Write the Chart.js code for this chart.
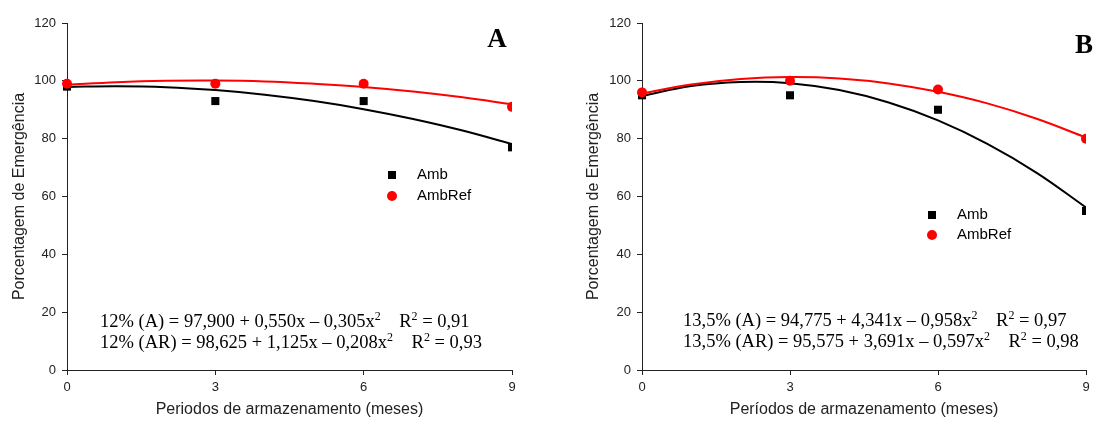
<!DOCTYPE html>
<html>
<head>
<meta charset="utf-8">
<script src="https://cdn.jsdelivr.net/npm/chart.js@4.4.1/dist/chart.umd.min.js"></script>
<style>
  html, body { margin: 0; padding: 0; background: #fff; }
  #wrap { position: relative; width: 1096px; height: 421px; overflow: hidden; }
  .panel { position: absolute; top: 0; width: 548px; height: 421px; }
</style>
</head>
<body>
<div id="wrap">
  <div class="panel" style="left:0"><canvas id="chartA" width="548" height="421"></canvas></div>
  <div class="panel" style="left:548px"><canvas id="chartB" width="548" height="421"></canvas></div>
</div>
<script>
// === DONNEES ===
const meses = [0, 3, 6, 9];
const ambA = [98, 93, 93, 77];
const ambRefA = [99, 99, 99, 91];
const ambB = [95, 95, 90, 55];
const ambRefB = [96, 100, 97, 80];

// courbes ajustées (x = 0..9)
const xCurva = [0, 1, 2, 3, 4, 5, 6, 7, 8, 9];
const curvaAmbA = [97.9, 98.1, 97.8, 96.8, 95.2, 93.0, 90.2, 86.8, 82.8, 78.1];
const curvaAmbRefA = [98.6, 99.5, 100.0, 100.1, 99.8, 99.0, 97.9, 96.3, 94.3, 91.9];
const curvaAmbB = [94.8, 98.2, 99.6, 99.2, 96.8, 92.5, 86.3, 78.2, 68.2, 56.2];
const curvaAmbRefB = [95.6, 98.7, 100.6, 101.3, 100.8, 99.1, 96.2, 92.2, 86.9, 80.4];

const yTicks = [0, 20, 40, 60, 80, 100, 120];
const xTicks = [0, 3, 6, 9];
const legendLabels = ['Amb', 'AmbRef'];

// segments : texte normal / exposant en alternance
const equacoesA = [
  ['12% (A) = 97,900 + 0,550x \u2013 0,305x', '2', '    R', '2', ' = 0,91'],
  ['12% (AR) = 98,625 + 1,125x \u2013 0,208x', '2', '    R', '2', ' = 0,93']
];
const equacoesB = [
  ['13,5% (A) = 94,775 + 4,341x \u2013 0,958x', '2', '    R', '2', ' = 0,97'],
  ['13,5% (AR) = 95,575 + 3,691x \u2013 0,597x', '2', '    R', '2', ' = 0,98']
];

const pts = (xs, ys) => xs.map((x, i) => ({ x: x, y: ys[i] }));

// === PLUGIN : légende, équations, lettre ===
const extras = {
  id: 'extras',
  afterDatasetsDraw(chart, args, o) {
    const ctx = chart.ctx;
    ctx.save();
    // légende
    const [lx, ly] = o.legend;
    ctx.fillStyle = '#000';
    ctx.fillRect(lx - 4, ly - 4, 8, 8);
    ctx.fillStyle = '#ff0000';
    ctx.beginPath();
    ctx.arc(lx, ly + o.legendGap, 5, 0, Math.PI * 2);
    ctx.fill();
    ctx.fillStyle = '#000';
    ctx.font = '15px "Liberation Sans", Arial, sans-serif';
    ctx.textBaseline = 'middle';
    ctx.fillText(legendLabels[0], o.legendText, ly);
    ctx.fillText(legendLabels[1], o.legendText, ly + o.legendGap);

    // équations
    ctx.textBaseline = 'alphabetic';
    o.equacoes.forEach((segs, r) => {
      let x = o.eq[0];
      const y = o.eq[1] + r * 21;
      segs.forEach((s, i) => {
        const sup = i % 2 === 1;
        ctx.font = sup ? '12px "Liberation Serif", serif' : '18.5px "Liberation Serif", serif';
        ctx.fillText(s, x, sup ? y - 7 : y);
        x += ctx.measureText(s).width;
      });
    });

    // lettre
    ctx.font = 'bold 27px "Liberation Serif", serif';
    ctx.textAlign = 'center';
    ctx.fillText(o.letra, o.letraPos[0], o.letraPos[1]);
    ctx.restore();
  }
};

function renderPanel(id, amb, ambRef, cAmb, cAmbRef, xTitle, padRight, yWidth, yTitlePad, extraOpts) {
  new Chart(document.getElementById(id), {
    type: 'scatter',
    data: {
      datasets: [
        {
          data: pts(meses, ambRef), order: 1,
          pointStyle: 'circle', pointRadius: 5, pointHoverRadius: 5,
          backgroundColor: '#ff0000', borderColor: '#ff0000', borderWidth: 0,
          clip: { left: 10, top: 10, right: 0, bottom: 10 }
        },
        {
          data: pts(meses, amb), order: 2,
          pointStyle: 'rect', pointRadius: 5.7, pointHoverRadius: 5.7,
          backgroundColor: '#000', borderColor: '#000', borderWidth: 0,
          clip: { left: 10, top: 10, right: 0, bottom: 10 }
        },
        {
          data: pts(xCurva, cAmbRef), order: 3, showLine: true,
          borderColor: '#ff0000', borderWidth: 2, pointRadius: 0, tension: 0.4
        },
        {
          data: pts(xCurva, cAmb), order: 4, showLine: true,
          borderColor: '#000', borderWidth: 2, pointRadius: 0, tension: 0.4
        }
      ]
    },
    options: {
      responsive: false,
      animation: false,
      events: [],
      layout: { padding: { top: 23, right: padRight, left: 0, bottom: 0 } },
      plugins: {
        legend: { display: false },
        tooltip: { enabled: false },
        extras: extraOpts
      },
      scales: {
        x: {
          type: 'linear', min: 0, max: 9,
          afterFit: s => { s.height = 51; },
          afterBuildTicks: s => { s.ticks = xTicks.map(v => ({ value: v })); },
          grid: { drawOnChartArea: false, drawTicks: true, tickLength: 5, color: '#222' },
          border: { color: '#222', width: 1 },
          ticks: { color: '#222', font: { family: '"Liberation Sans", Arial', size: 13 }, padding: 5, maxRotation: 0 },
          title: {
            display: true, text: xTitle, color: '#222',
            font: { family: '"Liberation Sans", Arial', size: 16 },
            padding: { top: 0, bottom: 2 }
          }
        },
        y: {
          type: 'linear', min: 0, max: 120,
          afterFit: s => { s.width = yWidth; },
          afterBuildTicks: s => { s.ticks = yTicks.map(v => ({ value: v })); },
          grid: { drawOnChartArea: false, drawTicks: true, tickLength: 5, color: '#222' },
          border: { color: '#222', width: 1 },
          ticks: { color: '#222', font: { family: '"Liberation Sans", Arial', size: 13 }, padding: 6 },
          title: {
            display: true, text: 'Porcentagem de Emergência', color: '#222',
            font: { family: '"Liberation Sans", Arial', size: 16 },
            padding: { top: yTitlePad, bottom: 0 }
          }
        }
      }
    },
    plugins: [extras]
  });
}

renderPanel('chartA', ambA, ambRefA, curvaAmbA, curvaAmbRefA,
  'Periodos de armazenamento (meses)', 36, 67, 10,
  { legend: [392, 175], legendGap: 21, legendText: 417, eq: [100, 327], equacoes: equacoesA, letra: 'A', letraPos: [497, 47] });

renderPanel('chartB', ambB, ambRefB, curvaAmbB, curvaAmbRefB,
  'Períodos de armazenamento (meses)', 10, 94, 36,
  { legend: [384, 215], legendGap: 20, legendText: 409, eq: [135, 326], equacoes: equacoesB, letra: 'B', letraPos: [536, 53] });
</script>
</body>
</html>
